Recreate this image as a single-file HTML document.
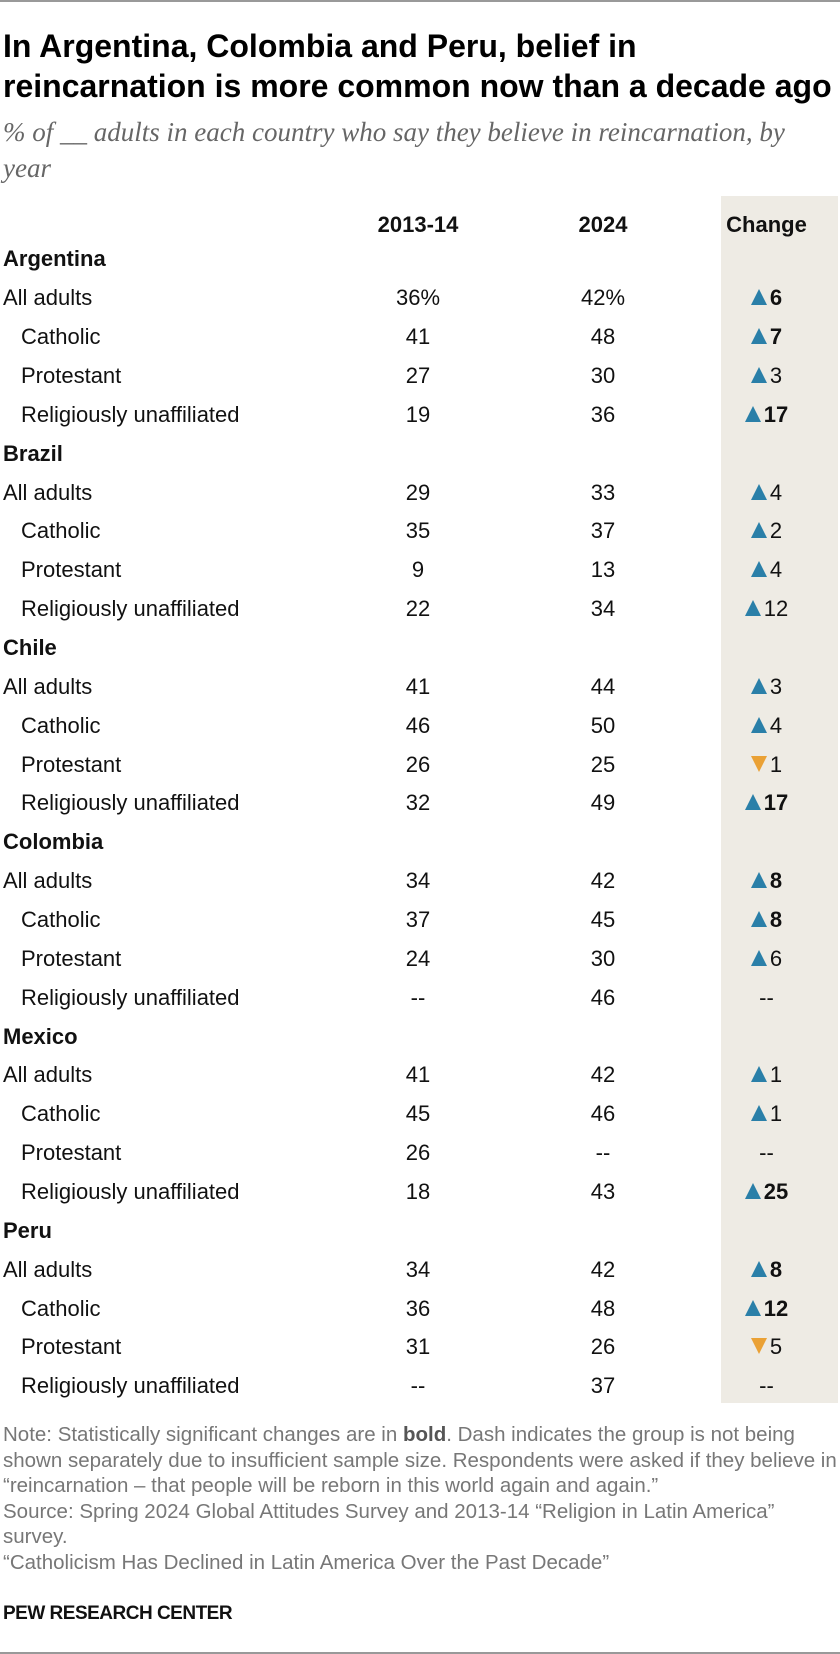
<!DOCTYPE html>
<html><head><meta charset="utf-8"><style>
body{margin:0;width:840px;height:1654px;background:#fff;position:relative;font-family:"Liberation Sans",sans-serif;overflow:hidden}
.a{position:absolute}
.band{left:721px;top:196px;width:117px;height:1207px;background:#eeebe4}
h1{position:absolute;left:3px;top:26px;margin:0;font-size:32px;line-height:40px;font-weight:bold;letter-spacing:0;color:#000;white-space:nowrap}
.sub{left:3px;top:114px;font-family:"Liberation Serif",serif;font-style:italic;font-size:27px;line-height:36px;color:#666;white-space:nowrap}
table{position:absolute;left:0;top:210px;border-collapse:collapse;font-size:22px;color:#111}
td{height:38.86px;padding:0;line-height:22px}
tr.hh td{height:30px}
td.l{width:330px;padding-left:3px}
td.i{padding-left:21px;width:312px}
td.c1{width:170px;text-align:center}
td.c2{width:200px;text-align:center}
td.c3{width:127px;padding-right:10px;text-align:center}
tr.h td{font-weight:bold}
.up,.dn{display:inline-block;width:0;height:0;border-left:8px solid transparent;border-right:8px solid transparent;margin-right:3px;vertical-align:0}
.up{border-bottom:16px solid #2a7fa8}
.dn{border-top:16px solid #eaa135}
b{font-weight:bold}
.notes{left:3px;top:1422px;font-size:20.5px;line-height:25.5px;color:#777;width:835px;white-space:nowrap}
.pew{left:3px;top:1603px;font-size:19px;font-weight:bold;color:#111;letter-spacing:-0.5px}
.ln{left:0;width:840px;height:2px;background:#999}
</style></head><body>
<div class="a ln" style="top:0"></div>
<div class="a band"></div>
<h1>In Argentina, Colombia and Peru, belief in<br>reincarnation is more common now than a decade ago</h1>
<div class="a sub">% of __ adults in each country who say they believe in reincarnation, by<br>year</div>
<table>
<tr class="h hh"><td class="l"></td><td class="c1">2013-14</td><td class="c2">2024</td><td class="c3">Change</td></tr>
<tr class="h"><td class="l">Argentina</td><td></td><td></td><td></td></tr>
<tr><td class="l">All adults</td><td class="c1">36%</td><td class="c2">42%</td><td class="c3"><span class="up"></span><b>6</b></td></tr>
<tr><td class="i">Catholic</td><td class="c1">41</td><td class="c2">48</td><td class="c3"><span class="up"></span><b>7</b></td></tr>
<tr><td class="i">Protestant</td><td class="c1">27</td><td class="c2">30</td><td class="c3"><span class="up"></span>3</td></tr>
<tr><td class="i">Religiously unaffiliated</td><td class="c1">19</td><td class="c2">36</td><td class="c3"><span class="up"></span><b>17</b></td></tr>
<tr class="h"><td class="l">Brazil</td><td></td><td></td><td></td></tr>
<tr><td class="l">All adults</td><td class="c1">29</td><td class="c2">33</td><td class="c3"><span class="up"></span>4</td></tr>
<tr><td class="i">Catholic</td><td class="c1">35</td><td class="c2">37</td><td class="c3"><span class="up"></span>2</td></tr>
<tr><td class="i">Protestant</td><td class="c1">9</td><td class="c2">13</td><td class="c3"><span class="up"></span>4</td></tr>
<tr><td class="i">Religiously unaffiliated</td><td class="c1">22</td><td class="c2">34</td><td class="c3"><span class="up"></span>12</td></tr>
<tr class="h"><td class="l">Chile</td><td></td><td></td><td></td></tr>
<tr><td class="l">All adults</td><td class="c1">41</td><td class="c2">44</td><td class="c3"><span class="up"></span>3</td></tr>
<tr><td class="i">Catholic</td><td class="c1">46</td><td class="c2">50</td><td class="c3"><span class="up"></span>4</td></tr>
<tr><td class="i">Protestant</td><td class="c1">26</td><td class="c2">25</td><td class="c3"><span class="dn"></span>1</td></tr>
<tr><td class="i">Religiously unaffiliated</td><td class="c1">32</td><td class="c2">49</td><td class="c3"><span class="up"></span><b>17</b></td></tr>
<tr class="h"><td class="l">Colombia</td><td></td><td></td><td></td></tr>
<tr><td class="l">All adults</td><td class="c1">34</td><td class="c2">42</td><td class="c3"><span class="up"></span><b>8</b></td></tr>
<tr><td class="i">Catholic</td><td class="c1">37</td><td class="c2">45</td><td class="c3"><span class="up"></span><b>8</b></td></tr>
<tr><td class="i">Protestant</td><td class="c1">24</td><td class="c2">30</td><td class="c3"><span class="up"></span>6</td></tr>
<tr><td class="i">Religiously unaffiliated</td><td class="c1">--</td><td class="c2">46</td><td class="c3">--</td></tr>
<tr class="h"><td class="l">Mexico</td><td></td><td></td><td></td></tr>
<tr><td class="l">All adults</td><td class="c1">41</td><td class="c2">42</td><td class="c3"><span class="up"></span>1</td></tr>
<tr><td class="i">Catholic</td><td class="c1">45</td><td class="c2">46</td><td class="c3"><span class="up"></span>1</td></tr>
<tr><td class="i">Protestant</td><td class="c1">26</td><td class="c2">--</td><td class="c3">--</td></tr>
<tr><td class="i">Religiously unaffiliated</td><td class="c1">18</td><td class="c2">43</td><td class="c3"><span class="up"></span><b>25</b></td></tr>
<tr class="h"><td class="l">Peru</td><td></td><td></td><td></td></tr>
<tr><td class="l">All adults</td><td class="c1">34</td><td class="c2">42</td><td class="c3"><span class="up"></span><b>8</b></td></tr>
<tr><td class="i">Catholic</td><td class="c1">36</td><td class="c2">48</td><td class="c3"><span class="up"></span><b>12</b></td></tr>
<tr><td class="i">Protestant</td><td class="c1">31</td><td class="c2">26</td><td class="c3"><span class="dn"></span>5</td></tr>
<tr><td class="i">Religiously unaffiliated</td><td class="c1">--</td><td class="c2">37</td><td class="c3">--</td></tr>
</table>
<div class="a notes">Note: Statistically significant changes are in <b style="color:#555">bold</b>. Dash indicates the group is not being<br>shown separately due to insufficient sample size. Respondents were asked if they believe in<br>“reincarnation – that people will be reborn in this world again and again.”<br>Source: Spring 2024 Global Attitudes Survey and 2013-14 “Religion in Latin America”<br>survey.<br>“Catholicism Has Declined in Latin America Over the Past Decade”</div>
<div class="a pew">PEW RESEARCH CENTER</div>
<div class="a ln" style="top:1652px"></div>
</body></html>
